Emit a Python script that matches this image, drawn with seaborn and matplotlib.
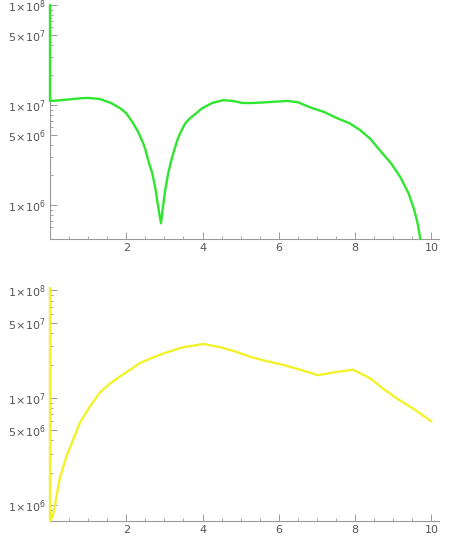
import numpy as np
import pandas as pd
import matplotlib
matplotlib.use("Agg")
import matplotlib.pyplot as plt
import seaborn as sns
from matplotlib.ticker import FixedLocator, FuncFormatter

# Curve values (x, y)
green_x = [0.0, 0.0, 0.3, 0.6, 0.79, 1.0, 1.31, 1.6, 1.84, 2.0, 2.18, 2.3, 2.44,
           2.5, 2.6, 2.68, 2.76, 2.81, 2.86, 2.91, 2.96, 3.02, 3.1, 3.2, 3.28,
           3.35, 3.41, 3.49, 3.55, 3.67, 3.8, 3.99, 4.25, 4.54, 4.8, 5.05, 5.33,
           5.7, 6.22, 6.5, 6.82, 7.2, 7.53, 7.85, 8.14, 8.4, 8.66, 8.95, 9.19,
           9.4, 9.53, 9.6, 9.65, 9.71]
green_y = [1e8, 1.10e7, 1.12e7, 1.15e7, 1.17e7, 1.18e7, 1.15e7, 1.05e7, 9.3e6,
           8.3e6, 6.6e6, 5.5e6, 4.2e6, 3.6e6, 2.6e6, 2.1e6, 1.5e6, 1.12e6, 8.5e5,
           6.6e5, 9.5e5, 1.41e6, 2.1e6, 3.0e6, 3.8e6, 4.6e6, 5.2e6, 6.0e6, 6.6e6,
           7.4e6, 8.1e6, 9.3e6, 1.05e7, 1.12e7, 1.10e7, 1.05e7, 1.05e7, 1.07e7,
           1.10e7, 1.07e7, 9.5e6, 8.5e6, 7.4e6, 6.6e6, 5.6e6, 4.6e6, 3.5e6,
           2.6e6, 1.9e6, 1.32e6, 9.5e5, 7.6e5, 6.3e5, 4.6e5]

yellow_x = [0.0, 0.0, 0.07, 0.13, 0.26, 0.44, 0.6, 0.79, 1.05, 1.31, 1.57, 1.84,
            2.1, 2.36, 2.62, 3.0, 3.49, 4.02, 4.46, 4.85, 5.25, 5.65, 6.04, 6.56,
            7.03, 7.53, 7.95, 8.4, 8.75, 9.1, 9.55, 10.0]
yellow_y = [1.05e8, 7.1e5, 7.8e5, 1.0e6, 1.8e6, 2.9e6, 4.0e6, 5.9e6, 8.3e6,
            1.12e7, 1.35e7, 1.58e7, 1.82e7, 2.1e7, 2.3e7, 2.6e7, 2.95e7, 3.16e7,
            2.95e7, 2.7e7, 2.4e7, 2.2e7, 2.05e7, 1.82e7, 1.62e7, 1.74e7, 1.82e7,
            1.51e7, 1.2e7, 9.8e6, 7.8e6, 6.0e6]

y_major = [1e6, 5e6, 1e7, 5e7, 1e8]
y_minor = [m * 10.0 ** e for e in (5, 6, 7) for m in (2, 3, 4, 6, 7, 8, 9)]
x_major = [2, 4, 6, 8, 10]
x_minor = [v / 2 for v in range(1, 21) if v % 4 != 0]

sns.set_style("ticks")
plt.rcParams["mathtext.fontset"] = "dejavusans"

axis_gray = "#9a9a9a"
label_gray = "#555555"


def sci_label(v, pos):
    e = int(np.floor(np.log10(v) + 1e-9))
    m = int(round(v / 10.0 ** e))
    return r"$%d\!\times\!10^{%d}$" % (m, e)


def style_axis(ax, ylim):
    ax.set_yscale("log")
    ax.set_xlim(0, 10.2)
    ax.set_ylim(*ylim)
    ax.yaxis.set_major_locator(FixedLocator(y_major))
    ax.yaxis.set_minor_locator(FixedLocator(y_minor))
    ax.yaxis.set_major_formatter(FuncFormatter(sci_label))
    ax.yaxis.set_minor_formatter(FuncFormatter(lambda v, p: ""))
    ax.xaxis.set_major_locator(FixedLocator(x_major))
    ax.xaxis.set_minor_locator(FixedLocator(x_minor))
    for side in ("top", "right"):
        ax.spines[side].set_visible(False)
    for side in ("left", "bottom"):
        ax.spines[side].set_color(axis_gray)
        ax.spines[side].set_linewidth(0.8)
    ax.tick_params(which="major", direction="in", length=5, width=0.7,
                   color=axis_gray, labelcolor=label_gray, labelsize=8, pad=3)
    ax.tick_params(which="minor", direction="in", length=2.5, width=0.6,
                   color=axis_gray)
    ax.set_xlabel("")
    ax.set_ylabel("")


fig = plt.figure(figsize=(4.52, 5.48), dpi=100)
ax1 = fig.add_axes([50 / 452, 1 - 239 / 548, 389 / 452, 234 / 548])
ax2 = fig.add_axes([50 / 452, 1 - 521 / 548, 389 / 452, 233 / 548])

green = pd.DataFrame({"x": green_x, "y": green_y})
yellow = pd.DataFrame({"x": yellow_x, "y": yellow_y})

sns.lineplot(data=green, x="x", y="y", sort=False, estimator=None,
             color="#2fe62f", linewidth=1.7, ax=ax1, clip_on=False, zorder=3)
sns.lineplot(data=yellow, x="x", y="y", sort=False, estimator=None,
             color="#f2f22a", linewidth=1.7, ax=ax2, clip_on=False, zorder=3)

style_axis(ax1, (4.6e5, 1e8))
style_axis(ax2, (7.1e5, 1.05e8))

plt.savefig("out.png", dpi=100)
